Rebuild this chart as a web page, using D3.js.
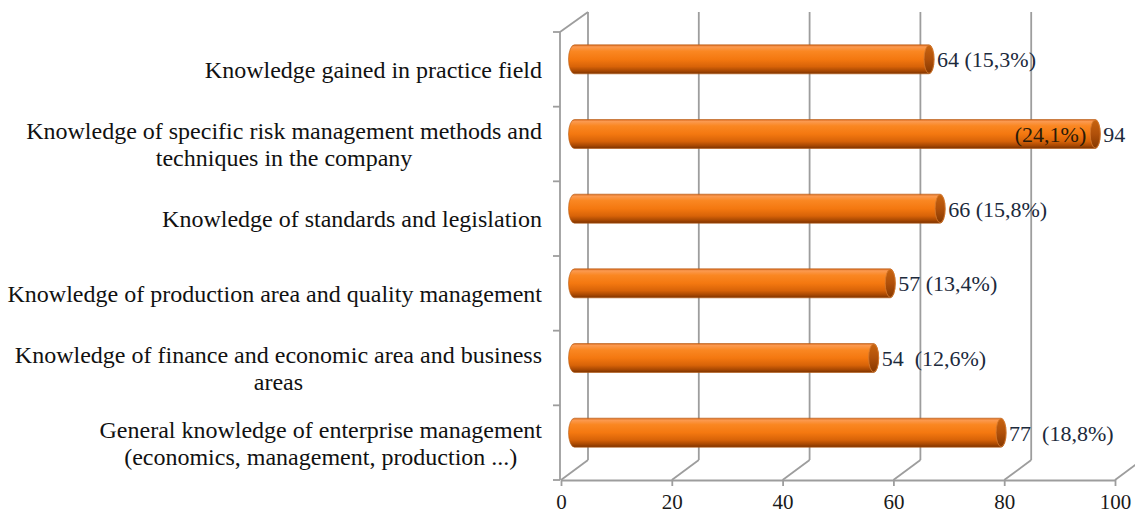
<!DOCTYPE html>
<html>
<head>
<meta charset="utf-8">
<script src="https://cdn.jsdelivr.net/npm/d3@7"></script>
<style>
  body { margin: 0; background: #fff; }
  text { font-family: "Liberation Serif", "Times New Roman", serif; white-space: pre; }
</style>
</head>
<body>
<div class="chart"></div>
<script>
var svgWidth = 1135;
var svgHeight = 514;

// data, top to bottom as in the picture
var categories = [
  ["Knowledge gained in practice field"],
  ["Knowledge of specific risk management methods and", "techniques in the company"],
  ["Knowledge of standards and legislation"],
  ["Knowledge of production area and quality management"],
  ["Knowledge of finance and economic area and business", "areas"],
  ["General knowledge of enterprise management", "(economics, management, production ...)"]
];
var counts = [64, 94, 66, 57, 54, 77];
var valueLabels = ["64 (15,3%)", "94", "66 (15,8%)", "57 (13,4%)", "54  (12,6%)", "77  (18,8%)"];
var insideLabels = ["", "(24,1%)", "", "", "", ""];
var xTicks = [0, 20, 40, 60, 80, 100];

// 3d box geometry
var floorY = 480, wallTop = 32;
var depthX = 27, depthY = 20;
var barH = 29, capRx = 5;
var gridColor = "#9d9d9d";

var svg = d3.select(".chart")
  .append("svg")
  .attr("width", svgWidth)
  .attr("height", svgHeight);

var x = d3.scaleLinear().domain([0, 100]).range([561, 1115]);
var y = d3.scaleBand().domain(d3.range(categories.length)).range([wallTop, floorY]);

var defs = svg.append("defs");
var body = defs.append("linearGradient").attr("id", "bodyGrad")
  .attr("x1", 0).attr("y1", 0).attr("x2", 0).attr("y2", 1);
[[0, "#d9681c"], [0.07, "#fb9a50"], [0.22, "#fa8722"], [0.5, "#f47810"],
 [0.75, "#d86308"], [0.9, "#a84802"], [1, "#7c3200"]].forEach(s => {
  body.append("stop").attr("offset", s[0]).attr("stop-color", s[1]);
});
var cap = defs.append("linearGradient").attr("id", "capGrad")
  .attr("x1", 0).attr("y1", 0).attr("x2", 0).attr("y2", 1);
[[0, "#c8640f"], [0.5, "#b0500a"], [1, "#863800"]].forEach(s => {
  cap.append("stop").attr("offset", s[0]).attr("stop-color", s[1]);
});

var grid = svg.append("g").attr("stroke", gridColor).attr("stroke-width", 1.8).attr("fill", "none");

// back wall gridlines
grid.selectAll(".back")
  .data(xTicks)
  .enter().append("line")
  .attr("x1", d => x(d) + depthX).attr("x2", d => x(d) + depthX)
  .attr("y1", wallTop - depthY).attr("y2", floorY - depthY);

// floor diagonals
grid.selectAll(".diag")
  .data(xTicks)
  .enter().append("line")
  .attr("x1", d => x(d)).attr("x2", d => x(d) + depthX)
  .attr("y1", floorY).attr("y2", floorY - depthY);

// left wall front edge and its top
grid.append("line").attr("x1", x(0) - 1).attr("x2", x(0) - 1).attr("y1", wallTop).attr("y2", floorY);
grid.append("line").attr("x1", x(0) - 1).attr("x2", x(0) + depthX).attr("y1", wallTop).attr("y2", wallTop - depthY);

// category ticks
grid.selectAll(".ctick")
  .data(d3.range(categories.length + 1))
  .enter().append("line")
  .attr("x1", x(0) - 8).attr("x2", x(0) - 1)
  .attr("y1", d => wallTop + d * y.step()).attr("y2", d => wallTop + d * y.step());

// bottom axis
var bottomAxis = d3.axisBottom(x).tickValues(xTicks).tickSize(6).tickPadding(8).tickSizeOuter(0);
var axisG = svg.append("g")
  .attr("transform", `translate(0, ${floorY})`)
  .call(bottomAxis);
axisG.select(".domain").attr("stroke", gridColor).attr("stroke-width", 1.8);
axisG.selectAll(".tick line").attr("stroke", gridColor).attr("stroke-width", 1.8);
axisG.selectAll(".tick text")
  .attr("fill", "#1a1a1a")
  .style("font-family", "'Liberation Serif', serif")
  .style("font-size", "21px");

// cylinders
function barCenter(i) {
  return y(i) + y.bandwidth() / 2 - depthY / 2;
}
var x0 = x(0) + depthX / 2;
var ry = barH / 2;

var bars = svg.selectAll(".bar")
  .data(counts)
  .enter().append("g")
  .attr("class", "bar");

bars.append("path")
  .attr("d", (d, i) => {
    var cy = barCenter(i);
    var xe = x(d) + depthX / 2;
    return `M${x0},${cy - ry} L${xe},${cy - ry} A${capRx},${ry} 0 0 1 ${xe},${cy + ry}` +
      ` L${x0},${cy + ry} A${capRx + 1},${ry} 0 0 1 ${x0},${cy - ry} Z`;
  })
  .attr("fill", "url(#bodyGrad)")
  .attr("stroke", "#b65a12")
  .attr("stroke-width", 0.6);

bars.append("ellipse")
  .attr("cx", d => x(d) + depthX / 2)
  .attr("cy", (d, i) => barCenter(i))
  .attr("rx", capRx)
  .attr("ry", ry - 0.5)
  .attr("fill", "url(#capGrad)")
  .attr("stroke", "#d47a30")
  .attr("stroke-width", 0.8);

// value labels
svg.selectAll(".val")
  .data(counts)
  .enter().append("text")
  .attr("x", d => x(d) + depthX / 2 + capRx + 3)
  .attr("y", (d, i) => barCenter(i))
  .attr("dy", "0.36em")
  .attr("fill", "#1c2a3c")
  .style("font-size", "22px")
  .text((d, i) => valueLabels[i]);

svg.selectAll(".inside")
  .data(counts)
  .enter().append("text")
  .attr("x", d => x(d) + depthX / 2 - capRx - 4)
  .attr("y", (d, i) => barCenter(i))
  .attr("dy", "0.36em")
  .attr("text-anchor", "end")
  .attr("fill", "#2a1a08")
  .style("font-size", "22px")
  .text((d, i) => insideLabels[i]);

// category labels, centred block, right edge near the wall
var labelRight = 542;
var lineH = 27;
categories.forEach((lines, i) => {
  var g = svg.append("g");
  var cy = y(i) + y.bandwidth() / 2;
  var texts = lines.map((ln, k) => g.append("text")
    .attr("y", cy + (k - (lines.length - 1) / 2) * lineH)
    .attr("dy", "0.35em")
    .attr("text-anchor", "middle")
    .attr("fill", "#111")
    .style("font-size", "24px")
    .text(ln));
  var w = d3.max(texts, t => t.node().getComputedTextLength());
  texts.forEach(t => t.attr("x", labelRight - w / 2));
});
</script>
</body>
</html>
